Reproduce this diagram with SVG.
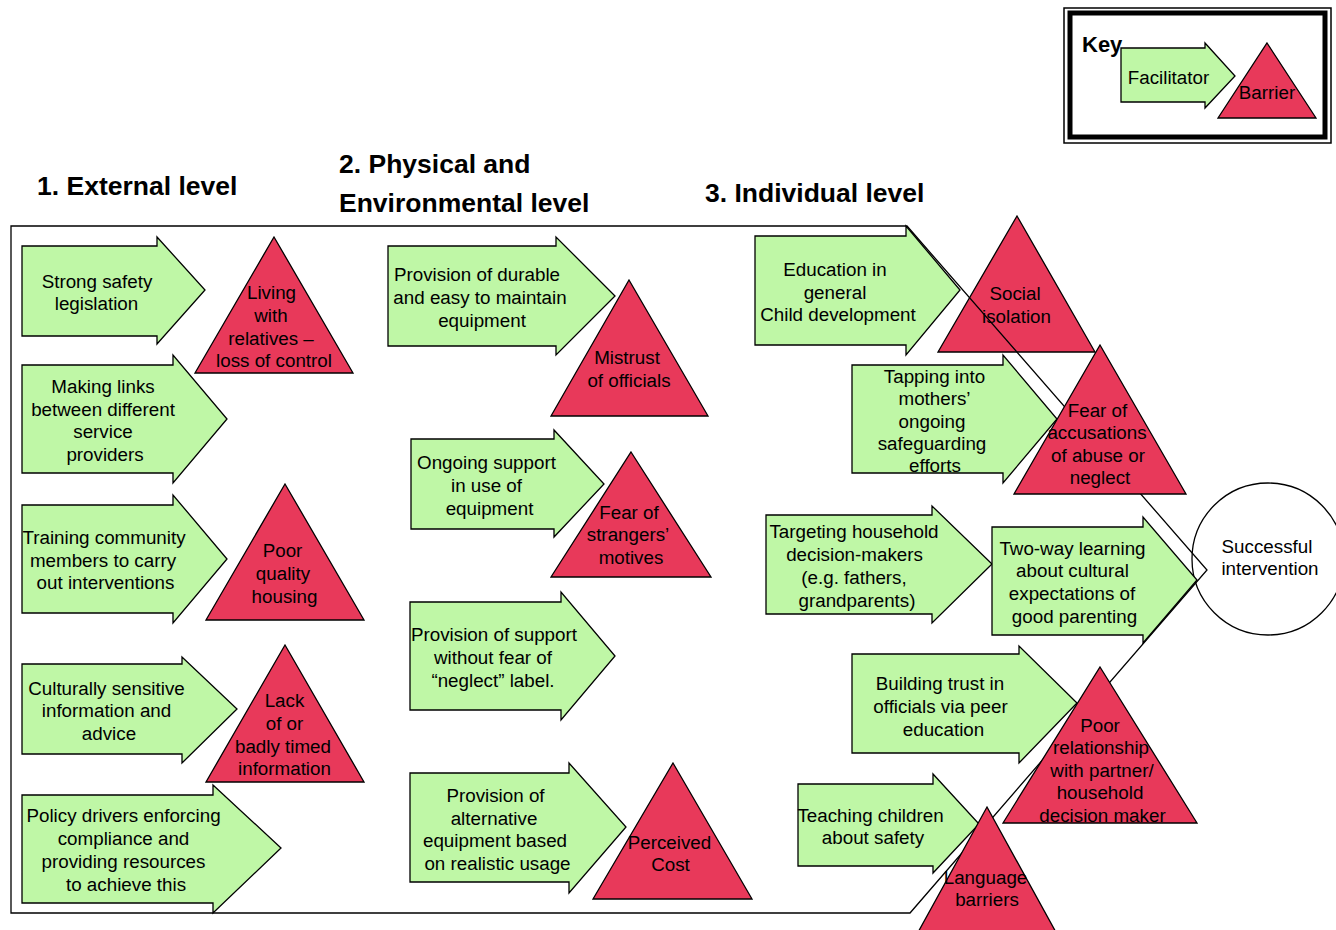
<svg xmlns="http://www.w3.org/2000/svg" width="1336" height="930" viewBox="0 0 1336 930">
<style>
.fac{fill:#BFF7A6;stroke:#000;stroke-width:1.3;stroke-linejoin:miter}
.bar{fill:#E8395A;stroke:#000;stroke-width:1.3}
.t{font-family:"Liberation Sans",Arial,sans-serif;font-size:18.8px;fill:#000;text-anchor:middle}
.h{font-family:"Liberation Sans",Arial,sans-serif;font-size:26.5px;font-weight:bold;fill:#000}
.frame{fill:none;stroke:#000;stroke-width:1.3}
</style>
<rect width="1336" height="930" fill="#fff"/>

<g id="headings">
<text class="h" x="37" y="195">1. External level</text>
<text class="h" x="339" y="173">2. Physical and</text>
<text class="h" x="339" y="212">Environmental level</text>
<text class="h" x="705" y="202">3. Individual level</text>
</g>

<g id="key">
<rect x="1064" y="8" width="267" height="135" fill="#fff" stroke="#000" stroke-width="1.5"/>
<rect x="1070" y="13" width="255" height="124" fill="none" stroke="#000" stroke-width="5"/>
<text x="1082" y="52" style="font-family:'Liberation Sans',Arial,sans-serif;font-size:22px;font-weight:bold">Key</text>
<polygon class="fac" points="1121,48 1205,48 1205,43 1235,76 1205,108 1205,102 1121,102"/>
<text class="t" x="1168.5" y="84">Facilitator</text>
<polygon class="bar" points="1267,43 1316,118 1218,118"/>
<text class="t" x="1267" y="99">Barrier</text>
</g>

<g id="n-social-isolation">
<polygon class="bar" points="1017,216 1095,352 938,352"/>
<text class="t"><tspan x="1015" y="299.5">Social</tspan><tspan x="1016.5" y="322.5">isolation</tspan></text>
</g>

<g id="n-successful-intervention">
<circle cx="1268" cy="559" r="76" fill="#fff" stroke="#000" stroke-width="1.3"/>
<text class="t"><tspan x="1267" y="552.5">Successful</tspan><tspan x="1270" y="574.5">intervention</tspan></text>
</g>

<g id="frame">
<polygon class="frame" points="11,226 907,226 1207,570 910,913 11,913"/>
</g>

<g id="n-strong-safety">
<polygon class="fac" points="22,246 157,246 157,237 205,290 157,344 157,336 22,336"/>
<text class="t"><tspan x="97" y="287.5">Strong safety</tspan><tspan x="96.5" y="309.5">legislation</tspan></text>
</g>
<g id="n-making-links">
<polygon class="fac" points="22,365 173,365 173,355 227,419 173,483 173,473 22,473"/>
<text class="t"><tspan x="103" y="392.5">Making links</tspan><tspan x="103" y="415.5">between different</tspan><tspan x="103" y="437.5">service</tspan><tspan x="105" y="460.5">providers</tspan></text>
</g>
<g id="n-training">
<polygon class="fac" points="22,505 173,505 173,495 227,559 173,623 173,613 22,613"/>
<text class="t"><tspan x="104" y="543.5">Training community</tspan><tspan x="103" y="566.5">members to carry</tspan><tspan x="105.5" y="588.5">out interventions</tspan></text>
</g>
<g id="n-culturally">
<polygon class="fac" points="22,664 182,664 182,657 237,709 182,763 182,754 22,754"/>
<text class="t"><tspan x="106.5" y="694.5">Culturally sensitive</tspan><tspan x="106.5" y="716.5">information and</tspan><tspan x="109" y="739.5">advice</tspan></text>
</g>
<g id="n-policy">
<polygon class="fac" points="22,795 213,795 213,785 281,848 213,913 213,903 22,903"/>
<text class="t"><tspan x="123.5" y="821.5">Policy drivers enforcing</tspan><tspan x="123.5" y="844.5">compliance and</tspan><tspan x="123.5" y="867.5">providing resources</tspan><tspan x="126" y="890.5">to achieve this</tspan></text>
</g>
<g id="n-living">
<polygon class="bar" points="274,237 353,373 195,373"/>
<text class="t"><tspan x="271.5" y="298.5">Living</tspan><tspan x="271" y="321.5">with</tspan><tspan x="271" y="344.5">relatives –</tspan><tspan x="274" y="366.5">loss of control</tspan></text>
</g>
<g id="n-poor-housing">
<polygon class="bar" points="285,484 364,620 206,620"/>
<text class="t"><tspan x="282.5" y="556.5">Poor</tspan><tspan x="283" y="579.5">quality</tspan><tspan x="284.5" y="602.5">housing</tspan></text>
</g>
<g id="n-lack-info">
<polygon class="bar" points="285,645 364,782 206,782"/>
<text class="t"><tspan x="284.5" y="706.5">Lack</tspan><tspan x="284.5" y="729.5">of or</tspan><tspan x="283" y="752.5">badly timed</tspan><tspan x="284.5" y="774.5">information</tspan></text>
</g>

<g id="n-durable">
<polygon class="fac" points="388,246 556,246 556,237 615,296 556,355 556,346 388,346"/>
<text class="t"><tspan x="477" y="280.5">Provision of durable</tspan><tspan x="480" y="303.5">and easy to maintain</tspan><tspan x="482" y="326.5">equipment</tspan></text>
</g>
<g id="n-ongoing-support">
<polygon class="fac" points="411,439 554,439 554,430 604,484 554,537 554,529 411,529"/>
<text class="t"><tspan x="486.5" y="468.5">Ongoing support</tspan><tspan x="486.5" y="491.5">in use of</tspan><tspan x="489.5" y="514.5">equipment</tspan></text>
</g>
<g id="n-support-no-fear">
<polygon class="fac" points="410,602 561,602 561,592 615,656 561,720 561,710 410,710"/>
<text class="t"><tspan x="494" y="640.5">Provision of support</tspan><tspan x="493" y="663.5">without fear of</tspan><tspan x="493" y="686.5">“neglect” label.</tspan></text>
</g>
<g id="n-alternative">
<polygon class="fac" points="410,773 569,773 569,763 626,827 569,893 569,882 410,882"/>
<text class="t"><tspan x="495.5" y="801.5">Provision of</tspan><tspan x="494" y="824.5">alternative</tspan><tspan x="495" y="846.5">equipment based</tspan><tspan x="497.5" y="869.5">on realistic usage</tspan></text>
</g>
<g id="n-mistrust">
<polygon class="bar" points="629,280 708,416 551,416"/>
<text class="t"><tspan x="627" y="363.5">Mistrust</tspan><tspan x="629" y="386.5">of officials</tspan></text>
</g>
<g id="n-fear-strangers">
<polygon class="bar" points="631,452 711,577 551,577"/>
<text class="t"><tspan x="629" y="518.5">Fear of</tspan><tspan x="628" y="540.5">strangers’</tspan><tspan x="631" y="563.5">motives</tspan></text>
</g>
<g id="n-perceived-cost">
<polygon class="bar" points="673,763 752,899 593,899"/>
<text class="t"><tspan x="669.5" y="848.5">Perceived</tspan><tspan x="670.5" y="870.5">Cost</tspan></text>
</g>

<g id="n-education">
<polygon class="fac" points="755,236 906,236 906,226 960,290 906,355 906,345 755,345"/>
<text class="t"><tspan x="835" y="275.5">Education in</tspan><tspan x="835" y="298.5">general</tspan><tspan x="838" y="320.5">Child development</tspan></text>
</g>
<g id="n-tapping">
<polygon class="fac" points="852,365 1003,365 1003,355 1057,419 1003,483 1003,473 852,473"/>
<text class="t"><tspan x="934.5" y="382.5">Tapping into</tspan><tspan x="934.5" y="404.5">mothers’</tspan><tspan x="932" y="427.5">ongoing</tspan><tspan x="932" y="449.5">safeguarding</tspan><tspan x="935" y="471.5">efforts</tspan></text>
</g>
<g id="n-fear-accusations">
<polygon class="bar" points="1100,345 1186,494 1014,494"/>
<text class="t"><tspan x="1097.5" y="416.5">Fear of</tspan><tspan x="1097" y="438.5">accusations</tspan><tspan x="1098" y="461.5">of abuse or</tspan><tspan x="1100" y="483.5">neglect</tspan></text>
</g>
<g id="n-targeting">
<polygon class="fac" points="766,515 932,515 932,506 992,564 932,623 932,614 766,614"/>
<text class="t"><tspan x="854" y="537.5">Targeting household</tspan><tspan x="854.5" y="560.5">decision-makers</tspan><tspan x="854" y="583.5">(e.g. fathers,</tspan><tspan x="857" y="606.5">grandparents)</tspan></text>
</g>
<g id="n-two-way">
<polygon class="fac" points="992,527 1143,527 1143,517 1197,580 1143,643 1143,635 992,635"/>
<text class="t"><tspan x="1072.5" y="554.5">Two-way learning</tspan><tspan x="1072.5" y="576.5">about cultural</tspan><tspan x="1072" y="599.5">expectations of</tspan><tspan x="1074.5" y="622.5">good parenting</tspan></text>
</g>
<g id="n-building-trust">
<polygon class="fac" points="852,654 1019,654 1019,646 1077,703 1019,763 1019,753 852,753"/>
<text class="t"><tspan x="940" y="689.5">Building trust in</tspan><tspan x="940.5" y="712.5">officials via peer</tspan><tspan x="943.5" y="735.5">education</tspan></text>
</g>
<g id="n-poor-relationship">
<polygon class="bar" points="1100,667 1197,823 1003,823"/>
<text class="t"><tspan x="1100" y="731.5">Poor</tspan><tspan x="1101" y="753.5">relationship</tspan><tspan x="1102" y="776.5">with partner/</tspan><tspan x="1100" y="798.5">household</tspan><tspan x="1102.5" y="821.5">decision maker</tspan></text>
</g>
<g id="n-teaching">
<polygon class="fac" points="798,784 933,784 933,774 979,824 933,873 933,866 798,866"/>
<text class="t"><tspan x="870.5" y="821.5">Teaching children</tspan><tspan x="873" y="843.5">about safety</tspan></text>
</g>
<g id="n-language">
<polygon class="bar" points="987,807 1063,945 911,945"/>
<text class="t"><tspan x="985.5" y="883.5">Language</tspan><tspan x="987" y="905.5">barriers</tspan></text>
</g>
</svg>
